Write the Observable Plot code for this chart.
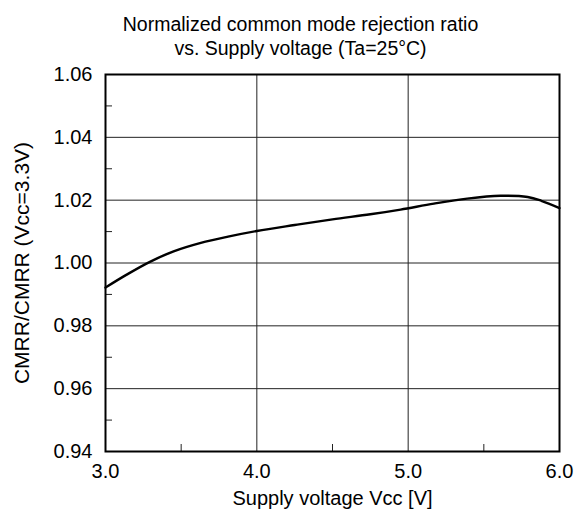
<!DOCTYPE html>
<html>
<head>
<meta charset="utf-8">
<script src="https://cdn.jsdelivr.net/npm/d3@7"></script>
<script src="https://cdn.jsdelivr.net/npm/@observablehq/plot@0.6"></script>
<style>
  body { margin: 0; background: #fff; }
  svg { font-family: "Liberation Sans", Arial, sans-serif; }
</style>
</head>
<body>
<div id="chart"></div>
<script>
const titleLines = ["Normalized common mode rejection ratio", "vs. Supply voltage (Ta=25°C)"];
const xLabel = "Supply voltage Vcc [V]";
const yLabel = "CMRR/CMRR (Vcc=3.3V)";

const voltage = [3.0, 3.14, 3.29, 3.45, 3.63, 3.81, 4.0, 4.25, 4.5, 4.75, 4.95, 5.17, 5.39, 5.61, 5.79, 5.88, 6.0];
const cmrrRatio = [0.9922, 0.9963, 1.0003, 1.0037, 1.0064, 1.0084, 1.0102, 1.0121, 1.0139, 1.0155, 1.0170, 1.0189, 1.0205, 1.0214, 1.0210, 1.0198, 1.0175];

const xTicks = [3.0, 4.0, 5.0, 6.0];
const yTicks = [0.94, 0.96, 0.98, 1.00, 1.02, 1.04, 1.06];
const xMinor = [3.5, 4.5, 5.5];
const yMinor = [0.95, 0.97, 0.99, 1.01, 1.03, 1.05];

const data = voltage.map((v, i) => ({v, r: cmrrRatio[i]}));

const W = 577, H = 518;
const mL = 105, mR = 18, mT = 74, mB = 67;
const pw = W - mL - mR, ph = H - mT - mB;

const chart = Plot.plot({
  width: W,
  height: H,
  marginLeft: mL,
  marginRight: mR,
  marginTop: mT,
  marginBottom: mB,
  style: {fontFamily: "Liberation Sans, Arial, sans-serif", background: "#fff", color: "#000"},
  x: {domain: [3, 6]},
  y: {domain: [0.94, 1.06]},
  marks: [
    Plot.ruleX(xTicks.slice(1, -1), {stroke: "#222", strokeWidth: 1}),
    Plot.ruleY(yTicks.slice(1, -1), {stroke: "#222", strokeWidth: 1}),
    Plot.tickY(yMinor, {y: d => d, insetRight: pw - 7, stroke: "#222", strokeWidth: 1}),
    Plot.tickX(xMinor, {x: d => d, insetTop: ph - 7, stroke: "#222", strokeWidth: 1}),
    Plot.line(data, {x: "v", y: "r", curve: "catmull-rom", stroke: "#000", strokeWidth: 2.4}),
    Plot.frame({stroke: "#000", strokeWidth: 2}),
    Plot.axisX(xTicks, {tickSize: 0, tickPadding: 12, tickFormat: d3.format(".1f"), fontSize: 20, label: null}),
    Plot.axisY(yTicks, {tickSize: 0, tickPadding: 13, tickFormat: d3.format(".2f"), fontSize: 20, label: null}),
    Plot.text([xLabel], {frameAnchor: "bottom", dy: 53, fontSize: 20, fill: "#000"}),
    Plot.text([yLabel], {frameAnchor: "left", dx: -83, rotate: -90, textAnchor: "middle", fontSize: 21, fill: "#000"}),
    Plot.text([titleLines[0]], {frameAnchor: "top-left", dx: 195, dy: -57, textAnchor: "middle", fontSize: 19.5, fill: "#000"}),
    Plot.text([titleLines[1]], {frameAnchor: "top-left", dx: 195, dy: -33, textAnchor: "middle", fontSize: 19.5, fill: "#000"})
  ]
});
document.getElementById("chart").appendChild(chart);
</script>
</body>
</html>
